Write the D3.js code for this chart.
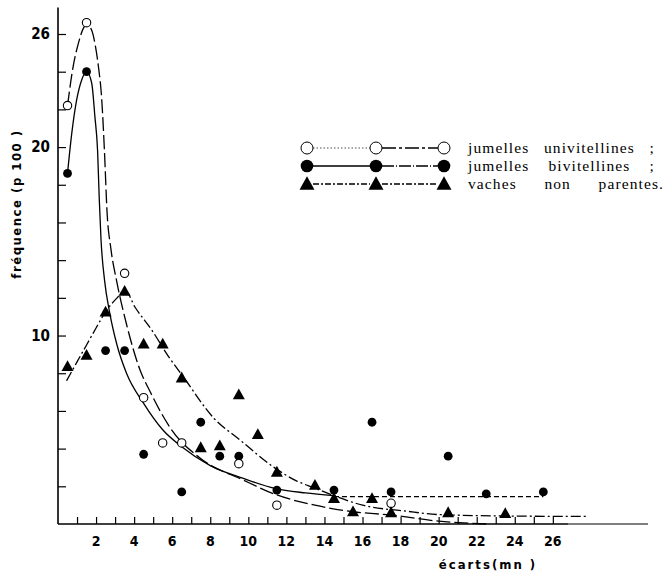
<!DOCTYPE html>
<html>
<head>
<meta charset="utf-8">
<script src="https://cdn.jsdelivr.net/npm/d3@7"></script>
<style>
  body { margin: 0; background: #fff; }
  .lbl { font-family: "Liberation Sans Narrow", "DejaVu Sans Condensed", sans-serif; font-weight: bold; fill: #000; }
  .legend-text { font-family: "Liberation Serif", "DejaVu Serif", serif; font-size: 15.5px; letter-spacing: 1.1px; fill: #000; }
</style>
</head>
<body>
<svg id="chart" width="668" height="584"></svg>
<script>
'use strict';

// observed points (écart in mn, fréquence p 100)
var uniX = [0.5, 1.5, 3.5, 4.5, 5.5, 6.5, 9.5, 11.5, 17.5];
var uniY = [22.2, 26.6, 13.3, 6.7, 4.3, 4.3, 3.2, 1.0, 1.1];

var biX = [0.5, 1.5, 2.5, 3.5, 4.5, 6.5, 7.5, 8.5, 9.5, 11.5, 14.5, 16.5, 17.5, 20.5, 22.5, 25.5];
var biY = [18.6, 24.0, 9.2, 9.2, 3.7, 1.7, 5.4, 3.6, 3.6, 1.8, 1.8, 5.4, 1.7, 3.6, 1.6, 1.7];

var vachesX = [0.5, 1.5, 2.5, 3.5, 4.5, 5.5, 6.5, 7.5, 8.5, 9.5, 10.5, 11.5, 13.5, 14.5, 15.5, 16.5, 17.5, 20.5, 23.5];
var vachesY = [8.4, 9.0, 11.3, 12.4, 9.6, 9.6, 7.8, 4.1, 4.2, 6.9, 4.8, 2.8, 2.1, 1.4, 0.7, 1.4, 0.65, 0.65, 0.6];

// fitted curves
var uniCurveX = [0.5, 0.8, 1.07, 1.33, 1.5, 1.77, 1.94, 2.12, 2.3, 2.44, 2.58, 2.78, 3.1, 3.6, 4.3, 4.85, 5.97, 7.46, 9.74, 11.5, 13.5, 15.5, 17.45, 20.0, 22.5];
var uniCurveY = [22.2, 24.3, 25.5, 26.3, 26.5, 26.2, 25.5, 24.3, 22.5, 19.8, 16.5, 14.6, 12.8, 10.6, 8.2, 7.0, 5.0, 3.5, 2.33, 1.54, 1.0, 0.65, 0.48, 0.15, 0];

var biCurveX = [0.5, 0.72, 0.98, 1.24, 1.5, 1.77, 1.94, 2.08, 2.17, 2.26, 2.45, 2.7, 3.1, 3.6, 4.5, 5.5, 6.5, 8.0, 9.74, 11.4, 13.0, 14.5];
var biCurveY = [18.6, 20.7, 22.5, 23.55, 24.0, 23.4, 21.6, 19.8, 17.2, 15.1, 12.9, 11.3, 9.5, 8.0, 6.4, 5.0, 4.1, 3.1, 2.42, 1.89, 1.65, 1.5];
var biTailX = [14.5, 25.5];
var biTailY = [1.45, 1.45];

var vachesCurveX = [0.45, 1.0, 1.5, 2.0, 2.56, 3.08, 3.52, 4.05, 4.92, 5.8, 6.59, 8.2, 9.56, 11.3, 12.5, 13.5, 14.5, 16.0, 18.3, 20.0, 24.0, 27.8];
var vachesCurveY = [7.6, 8.6, 9.5, 10.4, 11.35, 11.97, 12.4, 11.5, 10.3, 8.9, 7.8, 5.6, 4.46, 3.04, 2.3, 1.9, 1.5, 1.0, 0.68, 0.5, 0.42, 0.4];

// axes
var xTicks = d3.range(1, 27);
var xTickLabels = d3.range(2, 27, 2);
var yTicks = d3.range(2, 27, 2);
var yTickLabels = [10, 20, 26];

var legendLabels = [
  ['jumelles', 'univitellines', ';'],
  ['jumelles', 'bivitellines', ';'],
  ['vaches', 'non', 'parentes.']
];

var svg = d3.select('#chart');

var x = d3.scaleLinear().domain([0, 31]).range([58, 648]);
var y = d3.scaleLinear().domain([0, 26]).range([524, 34]);

function zip(xs, ys) {
  return xs.map(function(v, i) { return [v, ys[i]]; });
}

// y axis
svg.append('line')
  .attr('x1', x(0)).attr('x2', x(0))
  .attr('y1', y(0)).attr('y2', y(27.4))
  .attr('stroke', '#000').attr('stroke-width', 1.6);
svg.append('g')
  .attr('transform', 'translate(' + x(0) + ',0)')
  .call(d3.axisRight(y).tickValues(yTicks).tickSize(8).tickFormat(''))
  .call(function(g) {
    g.select('.domain').remove();
    g.selectAll('line').attr('stroke-width', 1.2);
  });
svg.selectAll('.ylabel')
  .data(yTickLabels)
  .enter().append('text')
  .attr('class', 'lbl')
  .attr('x', 50)
  .attr('y', function(d) { return y(d) + 5; })
  .attr('text-anchor', 'end')
  .style('font-size', '15px')
  .text(function(d) { return d; });

// x axis (the stretch past 26 is fainter in the print)
svg.append('line')
  .attr('x1', x(0)).attr('x2', x(26.8))
  .attr('y1', y(0)).attr('y2', y(0))
  .attr('stroke', '#000').attr('stroke-width', 1.6);
svg.append('line')
  .attr('x1', x(26.8)).attr('x2', x(31))
  .attr('y1', y(0)).attr('y2', y(0))
  .attr('stroke', '#000').attr('stroke-width', 1.1);
svg.append('g')
  .attr('transform', 'translate(0,' + y(0) + ')')
  .call(d3.axisTop(x).tickValues(xTicks).tickSize(7).tickFormat(''))
  .call(function(g) {
    g.select('.domain').remove();
    g.selectAll('line').attr('stroke-width', 1.2);
  });
svg.selectAll('.xlabel')
  .data(xTickLabels)
  .enter().append('text')
  .attr('class', 'lbl')
  .attr('x', function(d) { return x(d); })
  .attr('y', y(0) + 22)
  .attr('text-anchor', 'middle')
  .style('font-size', '14px')
  .text(function(d) { return d; });

// axis titles
svg.append('text')
  .attr('class', 'lbl')
  .attr('transform', 'translate(21,204) rotate(-90)')
  .attr('text-anchor', 'middle')
  .style('font-size', '13px')
  .style('letter-spacing', '1.5px')
  .text('fréquence (p 100 )');
svg.append('text')
  .attr('class', 'lbl')
  .attr('x', 488)
  .attr('y', 569)
  .attr('text-anchor', 'middle')
  .style('font-size', '13px')
  .style('letter-spacing', '2px')
  .text('écarts(mn )');

// curves
var line = d3.line()
  .x(function(d) { return x(d[0]); })
  .y(function(d) { return y(d[1]); })
  .curve(d3.curveMonotoneX);

function drawCurve(xs, ys, dash) {
  svg.append('path')
    .datum(zip(xs, ys))
    .attr('d', line)
    .attr('fill', 'none')
    .attr('stroke', '#000')
    .attr('stroke-width', 1.3)
    .attr('stroke-dasharray', dash);
}
drawCurve(biCurveX, biCurveY, null);
drawCurve(biTailX, biTailY, '5,3');
drawCurve(uniCurveX, uniCurveY, '14,4');
drawCurve(vachesCurveX, vachesCurveY, '10,3,2,3');

// markers
function triangle(cx, cy, w) {
  var h = w * 0.9;
  return 'M' + cx + ',' + (cy - h / 2) + 'L' + (cx + w / 2) + ',' + (cy + h / 2) +
    'L' + (cx - w / 2) + ',' + (cy + h / 2) + 'Z';
}

svg.selectAll('.bi')
  .data(zip(biX, biY))
  .enter().append('circle')
  .attr('cx', function(d) { return x(d[0]); })
  .attr('cy', function(d) { return y(d[1]); })
  .attr('r', 4.4)
  .attr('fill', '#000');

svg.selectAll('.uni')
  .data(zip(uniX, uniY))
  .enter().append('circle')
  .attr('cx', function(d) { return x(d[0]); })
  .attr('cy', function(d) { return y(d[1]); })
  .attr('r', 4.2)
  .attr('fill', '#fff')
  .attr('stroke', '#000')
  .attr('stroke-width', 1.1);

svg.selectAll('.vaches')
  .data(zip(vachesX, vachesY))
  .enter().append('path')
  .attr('d', function(d) { return triangle(x(d[0]), y(d[1]), 12); })
  .attr('fill', '#000');

// legend
var legendMarkX = [307, 376, 444];
var legendRowY = [148, 166, 184];
var legendDash = [['1.5,2', '14,3,3,3'], [null, '12,2,1,2'], ['6,2,2,2', '6,2,2,2']];

legendRowY.forEach(function(ry, row) {
  for (var s = 0; s < 2; s++) {
    svg.append('line')
      .attr('x1', legendMarkX[s] + 6).attr('x2', legendMarkX[s + 1] - 6)
      .attr('y1', ry).attr('y2', ry)
      .attr('stroke', '#000')
      .attr('stroke-width', row === 0 && s === 0 ? 0.7 : 1.3)
      .attr('stroke-dasharray', legendDash[row][s]);
  }
  legendMarkX.forEach(function(mx) {
    if (row === 0) {
      svg.append('circle').attr('cx', mx).attr('cy', ry).attr('r', 6)
        .attr('fill', '#fff').attr('stroke', '#000').attr('stroke-width', 1);
    } else if (row === 1) {
      svg.append('circle').attr('cx', mx).attr('cy', ry).attr('r', 6.3).attr('fill', '#000');
    } else {
      svg.append('path').attr('d', triangle(mx, ry - 1, 15)).attr('fill', '#000');
    }
  });

  // justified text, words spread between x0 and x1
  var words = legendLabels[row];
  var x0 = 468, x1 = row === 2 ? 664 : 655;
  var nodes = words.map(function(w) {
    return svg.append('text').attr('class', 'legend-text').attr('y', ry + 5).text(w);
  });
  var widths = nodes.map(function(n) { return n.node().getComputedTextLength(); });
  var gap = (x1 - x0 - d3.sum(widths)) / (words.length - 1);
  var cx = x0;
  nodes.forEach(function(n, i) {
    n.attr('x', cx);
    cx += widths[i] + gap;
  });
});
</script>
</body>
</html>
